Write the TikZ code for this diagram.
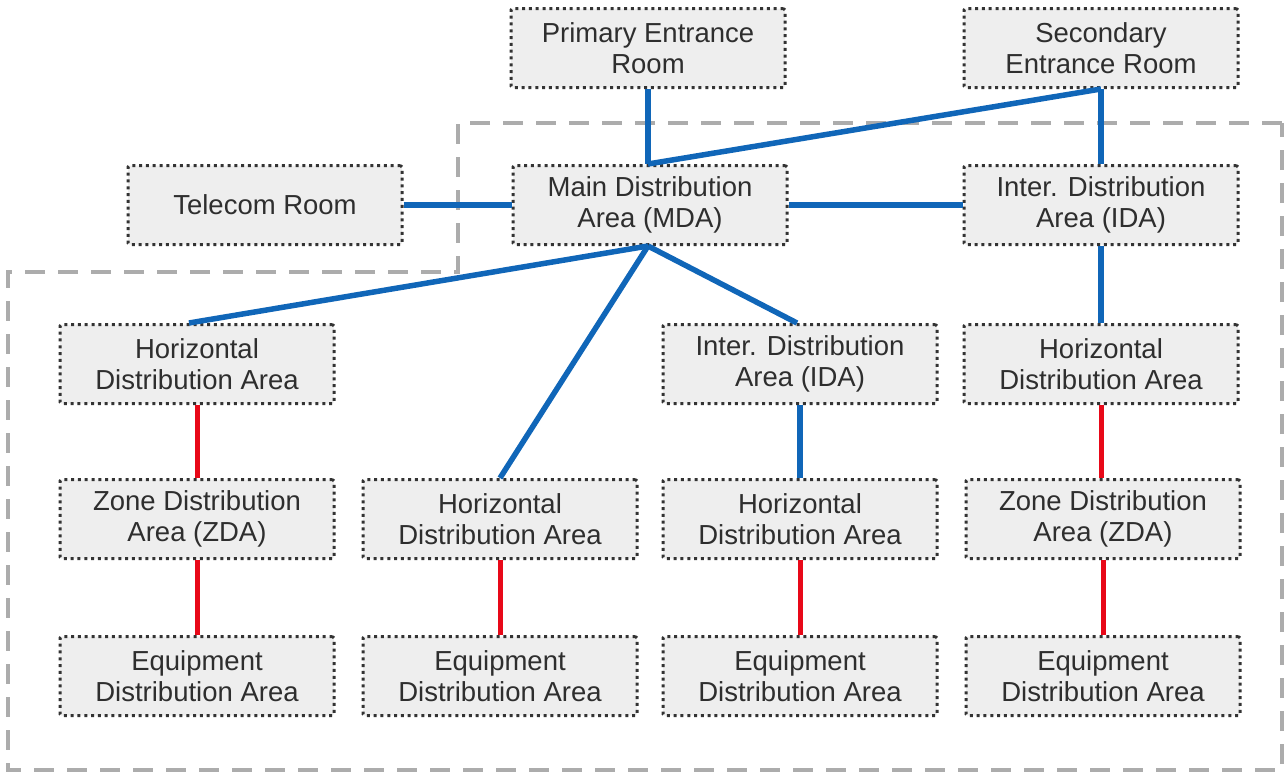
\documentclass[tikz,border=0pt]{standalone}
\usepackage{fontspec}
\setmainfont{Liberation Sans}
\usepackage{tikz}

\definecolor{linkblue}{RGB}{16,102,184}
\definecolor{linkred}{RGB}{232,8,24}
\definecolor{boxfill}{RGB}{238,238,238}

\begin{document}
\begin{tikzpicture}[x=1pt, y=-1pt,
    area/.style={draw=black!80, fill=boxfill, line width=3pt, dash pattern=on 3pt off 3.8pt,
        rounded corners=1.5pt, minimum width=274pt, minimum height=79pt, align=center,
        text=black!82, font=\fontsize{27.5}{31}\selectfont},
    blue link/.style={linkblue, line width=5.5pt},
    red link/.style={linkred, line width=5pt},
    zone/.style={gray!65, line width=3.5pt, dash pattern=on 20pt off 13pt}]
    \useasboundingbox (0,0) rectangle (1286,774);

    % boundary
    \draw[zone] (1282,123) -- (458,123) -- (458,272) -- (8,272) -- (8,770) -- (1282,770) -- cycle;

    % Entrance rooms
    \node[area] (pri) at (648,48) {Primary Entrance\\Room};
    \node[area] (sec) at (1101,48) {Secondary\\Entrance Room};

    % Distribution core
    \node[area] (tel) at (265,205) {Telecom Room};
    \node[area] (mda) at (650,205) {Main Distribution\\Area (MDA)};
    \node[area] (ida) at (1101,205) {Inter. Distribution\\Area (IDA)};

    % Row 3
    \node[area] (hdaA) at (197,364) {Horizontal\\Distribution Area};
    \node[area] (idaB) at (800,364) {Inter. Distribution\\Area (IDA)};
    \node[area] (hdaD) at (1101,364) {Horizontal\\Distribution Area};

    % Row 4
    \node[area] (zdaA) at (197,519) {Zone Distribution\\Area (ZDA)};
    \node[area] (hdaB) at (500,519) {Horizontal\\Distribution Area};
    \node[area] (hdaC) at (800,519) {Horizontal\\Distribution Area};
    \node[area] (zdaD) at (1103,519) {Zone Distribution\\Area (ZDA)};

    % Equipment
    \node[area] (edaA) at (197,676) {Equipment\\Distribution Area};
    \node[area] (edaB) at (500,676) {Equipment\\Distribution Area};
    \node[area] (edaC) at (800,676) {Equipment\\Distribution Area};
    \node[area] (edaD) at (1103,676) {Equipment\\Distribution Area};

    % backbone links
    \draw[blue link] (pri.south) -- ([xshift=-2pt]mda.north);
    \draw[blue link] (sec.south) -- ([xshift=-2pt]mda.north);
    \draw[blue link] (sec.south) -- (ida.north);
    \draw[blue link] (tel.east) -- (mda.west);
    \draw[blue link] (mda.east) -- (ida.west);
    \draw[blue link] (ida.south) -- (hdaD.north);
    \draw[blue link] ([xshift=-2pt]mda.south) -- ([xshift=-8pt]hdaA.north);
    \draw[blue link] ([xshift=-2pt]mda.south) -- (hdaB.north);
    \draw[blue link] ([xshift=-2pt]mda.south) -- ([xshift=-3pt]idaB.north);
    \draw[blue link] (idaB.south) -- (hdaC.north);

    % horizontal links
    \draw[red link] (hdaA.south) -- (zdaA.north);
    \draw[red link] (zdaA.south) -- (edaA.north);
    \draw[red link] (hdaB.south) -- (edaB.north);
    \draw[red link] (hdaC.south) -- (edaC.north);
    \draw[red link] (hdaD.south) -- (hdaD.south |- zdaD.north);
    \draw[red link] (zdaD.south) -- (edaD.north);

\end{tikzpicture}
\end{document}
